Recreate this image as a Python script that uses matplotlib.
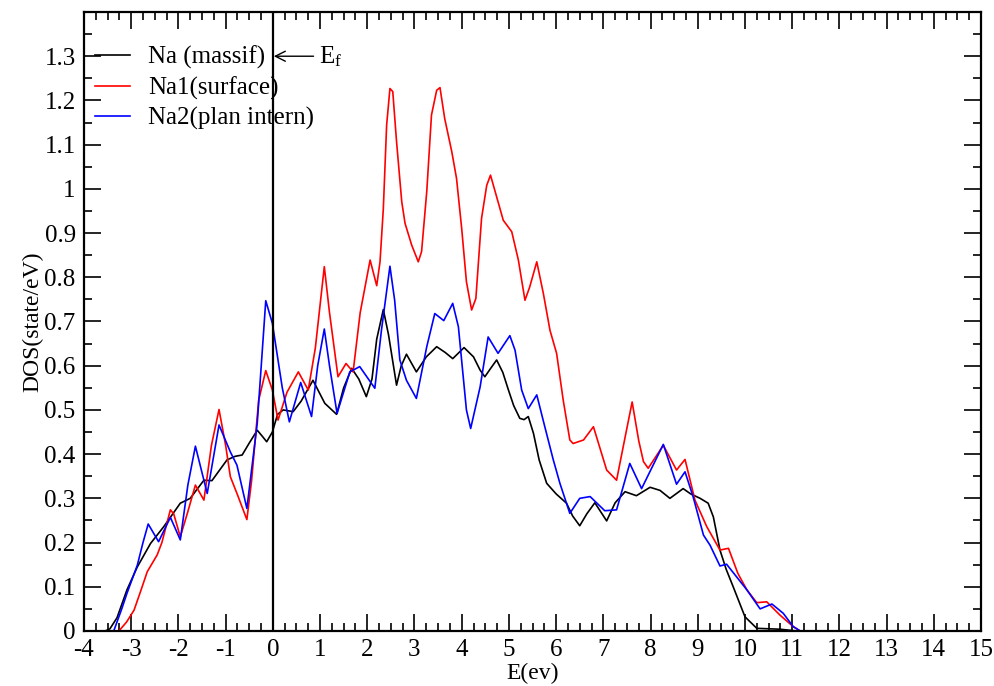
import matplotlib
matplotlib.use("Agg")
import matplotlib.pyplot as plt
from matplotlib.ticker import MultipleLocator, FormatStrFormatter

plt.rcParams['font.family'] = ['Liberation Serif', 'DejaVu Serif']
plt.rcParams['axes.unicode_minus'] = False
plt.rcParams['mathtext.fontset'] = 'custom'
plt.rcParams['mathtext.rm'] = 'Liberation Serif'
plt.rcParams['mathtext.it'] = 'Liberation Serif'

# Na (massif)
x_na = [-3.8, -3.55, -3.45, -3.3, -3.09, -2.87, -2.59, -2.31, -1.96, -1.75,
        -1.46, -1.29, -1.1, -0.97, -0.8, -0.65, -0.5, -0.33, -0.22, -0.13, -0.01,
        0.1, 0.22, 0.43, 0.6, 0.85, 1.1, 1.35, 1.5, 1.67, 1.82,
        1.98, 2.1, 2.2, 2.34, 2.45, 2.62, 2.72, 2.83, 3.04, 3.25, 3.47, 3.65, 3.81,
        4.05, 4.25, 4.39, 4.49, 4.62, 4.74, 4.87, 4.99, 5.1, 5.23, 5.32, 5.41, 5.52,
        5.64, 5.80, 6.0, 6.22, 6.35, 6.50, 6.65, 6.82, 7.07, 7.25, 7.46, 7.70, 7.99,
        8.2, 8.41, 8.69, 8.85, 9.05, 9.22, 9.33, 9.47, 9.6, 9.75, 10.0, 10.25, 10.74,
        11.1, 15.0]
y_na = [0, 0, 0.005, 0.03, 0.093, 0.145, 0.198, 0.236, 0.289, 0.30,
        0.341, 0.34, 0.368, 0.387, 0.395, 0.398, 0.425, 0.454, 0.44, 0.428, 0.45,
        0.49, 0.50, 0.496, 0.52, 0.567, 0.515, 0.49, 0.55, 0.594, 0.57,
        0.53, 0.57, 0.66, 0.727, 0.67, 0.556, 0.60, 0.626, 0.586, 0.62, 0.643, 0.63, 0.616,
        0.641, 0.62, 0.59, 0.575, 0.595, 0.613, 0.585, 0.545, 0.51, 0.481, 0.478, 0.485, 0.447,
        0.387, 0.334, 0.31, 0.289, 0.26, 0.238, 0.265, 0.290, 0.249, 0.29, 0.315, 0.306, 0.325,
        0.318, 0.30, 0.322, 0.31, 0.30, 0.289, 0.258, 0.183, 0.14, 0.10, 0.032, 0.006, 0.004,
        0.0, 0.0]

# Na1 (surface)
x_na1 = [-3.8, -3.26, -3.1, -2.94, -2.8, -2.66, -2.45, -2.35, -2.17, -2.1, -1.96,
         -1.8, -1.64, -1.46, -1.3, -1.14, -1.0, -0.90, -0.76, -0.55, -0.45, -0.30,
         -0.15, -0.01, 0.11, 0.3, 0.54, 0.75, 0.9, 1.09, 1.2, 1.38, 1.55, 1.70, 1.85,
         2.06, 2.20, 2.27, 2.34, 2.41, 2.48, 2.54, 2.62, 2.73, 2.80, 2.94, 3.08, 3.15,
         3.26, 3.36, 3.47, 3.54, 3.64, 3.79, 3.89, 4.0, 4.10, 4.21, 4.30, 4.42, 4.53,
         4.61, 4.74, 4.88, 5.06, 5.20, 5.34, 5.44, 5.59, 5.73, 5.87, 6.01, 6.15, 6.29,
         6.36, 6.58, 6.79, 7.07, 7.28, 7.49, 7.61, 7.75, 7.85, 7.95, 8.27, 8.55, 8.73,
         8.94, 9.19, 9.47, 9.65, 9.85, 10.04, 10.25, 10.46, 10.74, 11.02, 11.17, 15.0]
y_na1 = [0, 0, 0.02, 0.047, 0.09, 0.134, 0.172, 0.20, 0.274, 0.265, 0.213,
         0.27, 0.33, 0.296, 0.42, 0.501, 0.42, 0.349, 0.311, 0.252, 0.34, 0.522,
         0.589, 0.545, 0.477, 0.54, 0.586, 0.545, 0.64, 0.824, 0.72, 0.575, 0.605, 0.586, 0.72,
         0.839, 0.781, 0.835, 0.955, 1.144, 1.227, 1.22, 1.107, 0.971, 0.922, 0.873, 0.835, 0.858,
         0.994, 1.167, 1.223, 1.229, 1.159, 1.084, 1.024, 0.91, 0.79, 0.726, 0.752, 0.933, 1.008,
         1.031, 0.982, 0.929, 0.903, 0.839, 0.748, 0.778, 0.835, 0.763, 0.68, 0.628, 0.522, 0.432,
         0.424, 0.432, 0.462, 0.364, 0.341, 0.454, 0.518, 0.43, 0.383, 0.368, 0.42, 0.364, 0.388,
         0.296, 0.236, 0.183, 0.187, 0.13, 0.093, 0.064, 0.066, 0.036, 0.01, 0.0, 0.0]

# Na2 (plan intern)
x_na2 = [-3.8, -3.37, -3.2, -3.09, -2.87, -2.75, -2.64, -2.42, -2.17, -1.96, -1.8,
         -1.64, -1.39, -1.14, -0.90, -0.76, -0.55, -0.33, -0.15, -0.01, 0.2, 0.35,
         0.59, 0.82, 0.95, 1.09, 1.2, 1.36, 1.63, 1.84, 2.16, 2.3, 2.48, 2.58, 2.69,
         2.83, 3.04, 3.26, 3.43, 3.62, 3.81, 3.93, 4.10, 4.19, 4.39, 4.56, 4.77, 5.02,
         5.13, 5.27, 5.41, 5.59, 5.76, 5.94, 6.08, 6.29, 6.50, 6.72, 7.03, 7.28, 7.56,
         7.81, 8.27, 8.55, 8.73, 8.90, 9.12, 9.26, 9.47, 9.61, 10.04, 10.32, 10.57,
         10.81, 11.02, 11.17, 15.0]
y_na2 = [0, 0, 0.05, 0.085, 0.149, 0.2, 0.242, 0.202, 0.257, 0.206, 0.33,
         0.418, 0.311, 0.466, 0.405, 0.375, 0.277, 0.47, 0.747, 0.696, 0.55, 0.473,
         0.562, 0.485, 0.6, 0.683, 0.6, 0.492, 0.586, 0.598, 0.549, 0.68, 0.825, 0.748, 0.613,
         0.567, 0.526, 0.643, 0.718, 0.702, 0.741, 0.688, 0.50, 0.458, 0.552, 0.665, 0.628, 0.668,
         0.635, 0.545, 0.503, 0.534, 0.462, 0.387, 0.334, 0.266, 0.30, 0.304, 0.272, 0.274, 0.379,
         0.322, 0.422, 0.332, 0.36, 0.304, 0.217, 0.194, 0.147, 0.151, 0.093, 0.05, 0.061,
         0.04, 0.01, 0.0, 0.0]

fig = plt.figure(figsize=(9.95, 6.86), dpi=100)
ax = fig.add_axes([0.0844, 0.0802, 0.9016, 0.9023])

ax.plot(x_na, y_na, color='black', lw=1.2, label='Na (massif)')
ax.plot(x_na1, y_na1, color='red', lw=1.2, label='Na1(surface)')
ax.plot(x_na2, y_na2, color='blue', lw=1.2, label='Na2(plan intern)')
ax.axvline(0, color='black', lw=1.6)

ax.annotate('E$_f$', xy=(0.02, 1.3), xytext=(0.98, 1.3), fontsize=18,
            va='center', ha='left',
            arrowprops=dict(arrowstyle='->', color='black', lw=1.0,
                            shrinkA=2, shrinkB=0))

ax.set_xlim(-4, 15)
ax.set_ylim(0, 1.4)
ax.xaxis.set_major_locator(MultipleLocator(1))
ax.xaxis.set_minor_locator(MultipleLocator(0.25))
ax.yaxis.set_minor_locator(MultipleLocator(0.05))
ax.set_yticks([0, 0.1, 0.2, 0.3, 0.4, 0.5, 0.6, 0.7, 0.8, 0.9, 1.0, 1.1, 1.2, 1.3])
ax.yaxis.set_major_formatter(FormatStrFormatter('%g'))
ax.tick_params(which='both', direction='in', top=True, right=True, labelsize=18, width=1.2)
ax.tick_params(which='major', length=12, pad=6)
ax.tick_params(which='minor', length=6)
for s in ax.spines.values():
    s.set_linewidth(1.6)

ax.set_xlabel('E(ev)', fontsize=17, labelpad=1)
ax.set_ylabel('DOS(state/eV)', fontsize=17, labelpad=1)

ax.legend(loc='upper left', bbox_to_anchor=(0.012, 0.946), frameon=False, fontsize=18,
          handlelength=1.4, handletextpad=0.75, labelspacing=0.3, borderpad=0,
          borderaxespad=0)

fig.savefig('out.png', dpi=100)
